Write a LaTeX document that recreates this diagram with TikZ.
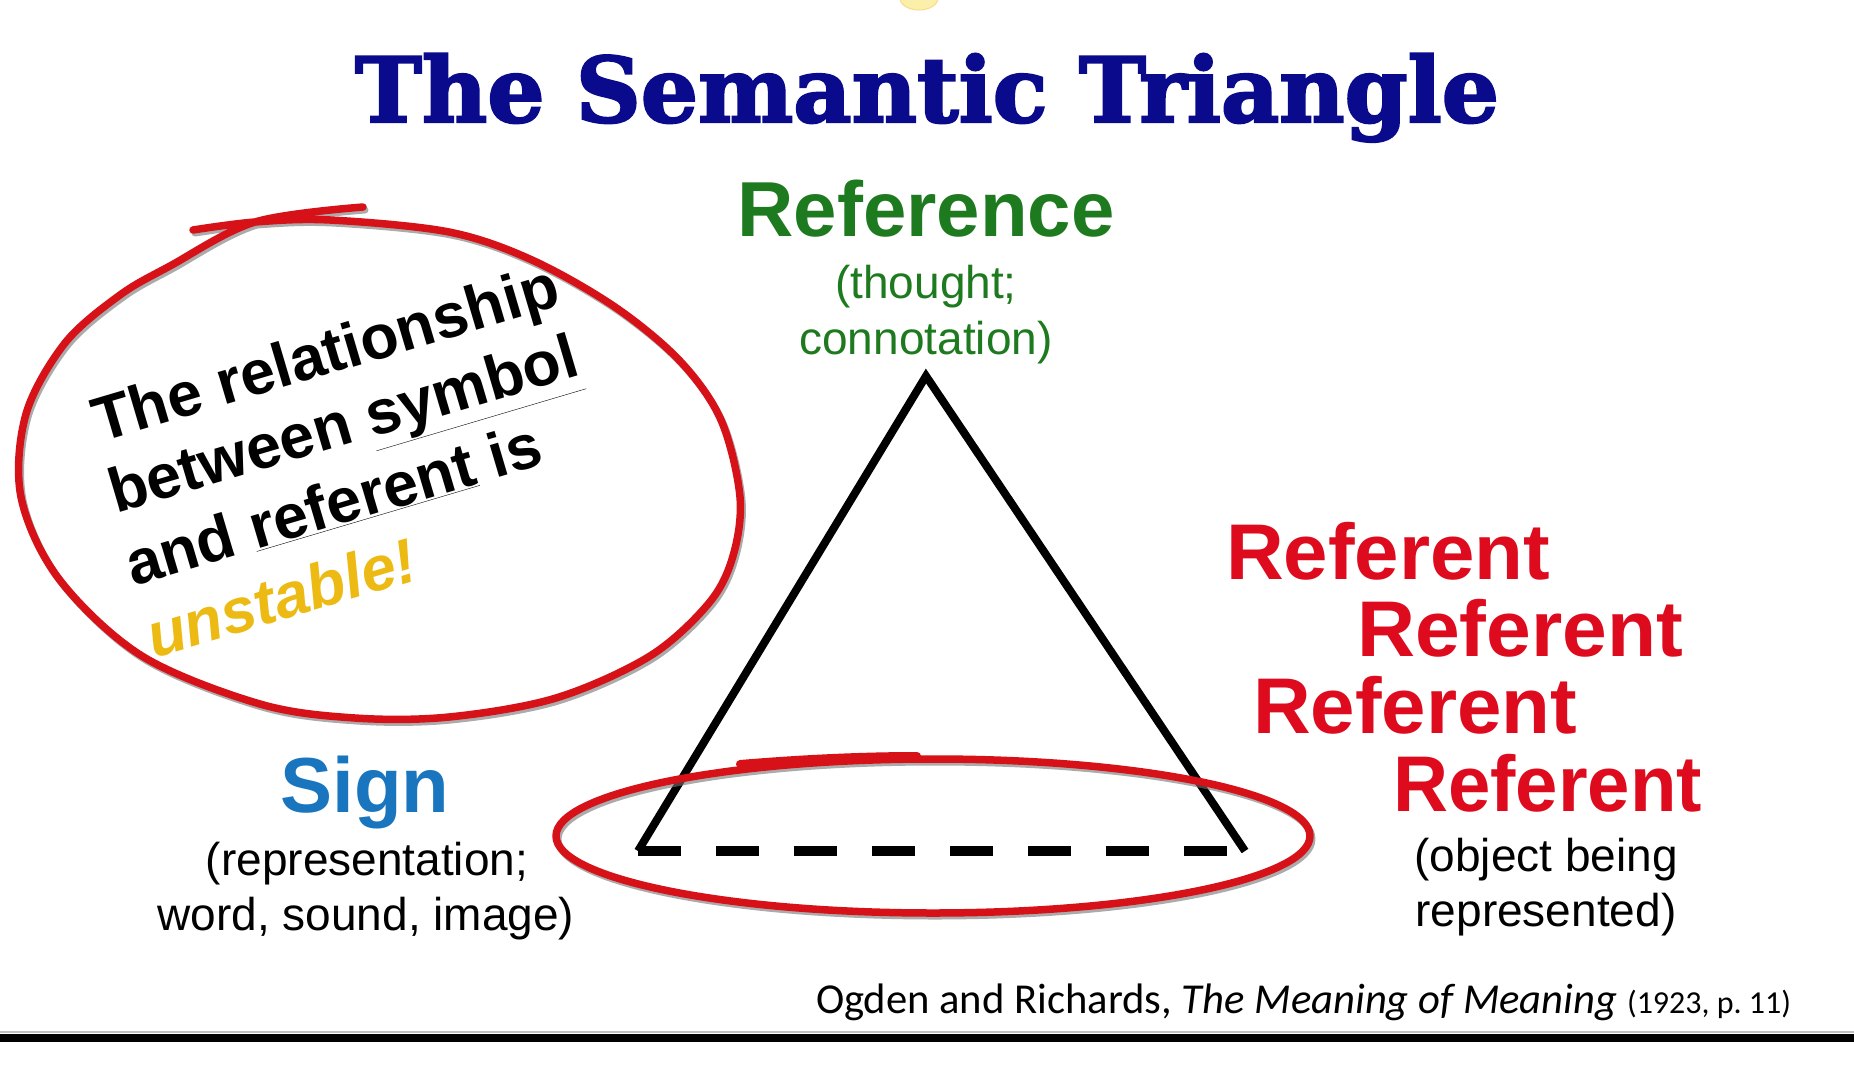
\documentclass[tikz,border=0pt]{standalone}
\usepackage{fontspec}
\usepackage{graphicx}
\setmainfont{Liberation Sans}
\newfontfamily\citefont{Carlito}
\newfontfamily\slabfont{DejaVu Serif}[BoldFeatures={FakeBold=2.5}]
\definecolor{navy}{RGB}{10,10,140}
\definecolor{refgreen}{RGB}{30,122,30}
\definecolor{signblue}{RGB}{25,118,190}
\definecolor{refred}{RGB}{222,10,30}
\definecolor{penred}{RGB}{214,18,24}
\definecolor{gold}{RGB}{236,186,18}
\definecolor{bulb}{RGB}{250,240,170}
\begin{document}
\begin{tikzpicture}[x=1pt,y=-1pt,
  txt/.style={inner sep=0pt, outer sep=0pt, anchor=base},
  txtw/.style={inner sep=0pt, outer sep=0pt, anchor=base west},
  bigfont/.style={font=\fontsize{78}{90}\selectfont\bfseries},
  subfont/.style={font=\fontsize{46}{54}\selectfont},
  blobfont/.style={font=\fontsize{62.5}{70}\selectfont\bfseries, rotate=16.5},
  pen/.style={draw=penred, line width=7.5pt, line cap=round, line join=round},
  penshadow/.style={draw=black!55, line width=7pt, line cap=round, line join=round, opacity=0.6},
  side/.style={draw=black, line width=8pt, line join=miter},
  base/.style={draw=black, line width=10pt, dash pattern=on 43pt off 35pt}
]
\useasboundingbox (0,0) rectangle (1854,1076);
\fill[white] (0,0) rectangle (1854,1076);

% small yellow spot at the top edge
\begin{scope}
\clip (0,0) rectangle (1854,1076);
\fill[bulb, draw=bulb!80!orange, line width=1pt] (919,-2) ellipse [x radius=19pt, y radius=12pt];
\end{scope}

% title
\node[txt, text=navy] (title) at (927,122)
  {\resizebox{1144pt}{\height}{\fontsize{90}{100}\selectfont\slabfont\bfseries The Semantic Triangle}};

% reference
\node[txt, bigfont, text=refgreen] (reference) at (926,236) {Reference};
\node[txt, subfont, text=refgreen] (refsub1) at (926,298) {(thought;};
\node[txt, subfont, text=refgreen] (refsub2) at (926,354) {connotation)};

% sign
\node[txt, bigfont, text=signblue] (sign) at (365,812) {Sign};
\node[txt, subfont] (signsub1) at (367,875) {(representation;};
\node[txt, subfont] (signsub2) at (366,930) {word, sound, image)};

% referents
\node[txtw, text=refred] (referent1) at (1226,579) {\resizebox{324pt}{\height}{\fontsize{79}{90}\selectfont\bfseries Referent}};
\node[txtw, text=refred] (referent2) at (1357,656) {\resizebox{326pt}{\height}{\fontsize{79}{90}\selectfont\bfseries Referent}};
\node[txtw, text=refred] (referent3) at (1253,733) {\resizebox{324pt}{\height}{\fontsize{79}{90}\selectfont\bfseries Referent}};
\node[txtw, text=refred] (referent4) at (1393,811) {\resizebox{309pt}{\height}{\fontsize{79}{90}\selectfont\bfseries Referent}};
\node[txt, subfont] (objsub1) at (1546,871) {(object being};
\node[txt, subfont] (objsub2) at (1546,926) {represented)};

% triangle
\coordinate (apex) at (926,376);
\coordinate (left) at (638,851);
\coordinate (right) at (1245,851);
\draw[side] (left) -- (apex) -- (right);
\draw[base] (left) -- (right);

% red ellipse around the base
\begin{scope}[shift={(2,3)}]
\draw[penshadow] (933,836) ellipse [x radius=377pt, y radius=77pt];
\end{scope}
\draw[pen] (933,836) ellipse [x radius=377pt, y radius=77pt];
\coordinate (tailA) at (740,764);
\coordinate (tailB) at (917,756);
\draw[pen, line width=8pt] (tailA) .. controls (800,759) and (860,756) .. (tailB);

% red loop around the note
\begin{scope}[shift={(2,3)}]
\draw[penshadow] plot[smooth, tension=0.55] coordinates {(193,230) (255,222) (330,220) (449,232) (532,260) (615,307) (680,361) (721,420) (740,497) (733,556) (709,603) (650,656) (556,698) (449,717) (355,718) (260,704) (142,656) (59,579) (21,497) (26,414) (65,343) (120,295) (170,266) (255,222) (363,207)};
\end{scope}
\draw[pen] plot[smooth, tension=0.55] coordinates {(193,230) (255,222) (330,220) (449,232) (532,260) (615,307) (680,361) (721,420) (740,497) (733,556) (709,603) (650,656) (556,698) (449,717) (355,718) (260,704) (142,656) (59,579) (21,497) (26,414) (65,343) (120,295) (170,266) (255,222) (363,207)};

% note text
\node[txtw, blobfont] (note1) at (100,442) {The relationship};
\node[txtw, blobfont] (note2) at (116,513) {between \underline{symbol}};
\node[txtw, blobfont] (note3) at (133,586) {and \underline{referent} is};
\node[txtw, blobfont, text=gold] (note4) at (154,658) {\itshape unstable!};

% citation
\node[txtw] (cite) at (816,1013) {\resizebox{975pt}{!}{\citefont\fontsize{40}{48}\selectfont Ogden and Richards, \textit{The Meaning of Meaning} {\fontsize{30}{36}\selectfont (1923, p.~11)}}};

% bottom rule
\coordinate (ruleL) at (0,1038);
\coordinate (ruleR) at (1854,1038);
\draw[black!25, line width=1.5pt] (0,1032) -- (1854,1032);
\draw[black, line width=8pt] (ruleL) -- (ruleR);
\end{tikzpicture}
\end{document}
